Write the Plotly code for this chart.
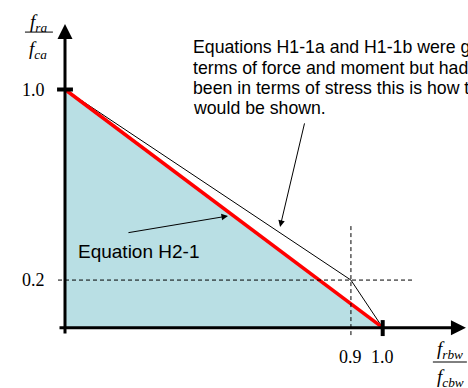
import plotly.graph_objects as go

# Interaction diagram values
h21_x = [0.0, 1.0]            # Equation H2-1 (straight line)
h21_y = [1.0, 0.0]
h1_x = [0.0, 0.9, 1.0]        # Equations H1-1a / H1-1b in stress terms
h1_y = [1.0, 0.2, 0.0]
x_ticks = [0.9, 1.0]
x_tick_text = ["0.9", "1.0"]
y_ticks = [0.2, 1.0]
y_tick_text = ["0.2", "1.0"]
note_lines = [
    "Equations H1-1a and H1-1b were given in",
    "terms of force and moment but had they",
    "been in terms of stress this is how they",
    "would be shown.",
]
note_line_y = [1.180, 1.0915, 1.0063, 0.9223]

SERIF = "Liberation Serif"
SANS = "Liberation Sans"
FILL = "rgb(185,223,228)"

X_RANGE = [-0.2046, 1.2685]
Y_RANGE = [-0.2531, 1.3757]

fig = go.Figure()

# shaded safe region under H2-1
fig.add_trace(go.Scatter(
    x=[0.0] + h21_x + [0.0], y=[0.0] + h21_y + [0.0],
    fill="toself", fillcolor=FILL, mode="none", hoverinfo="skip"))

# H1-1a/b bilinear curve
fig.add_trace(go.Scatter(x=h1_x, y=h1_y, mode="lines",
                         line=dict(color="black", width=1), hoverinfo="skip"))

# H2-1 line
fig.add_trace(go.Scatter(x=h21_x, y=h21_y, mode="lines",
                         line=dict(color="red", width=3.5), hoverinfo="skip"))

shapes = []
# dashed guides at the break point
shapes.append(dict(type="line", x0=h1_x[1], x1=h1_x[1], y0=-0.031, y1=0.431,
                   line=dict(color="black", width=1, dash="4px,3px")))
shapes.append(dict(type="line", x0=-0.022, x1=1.099, y0=h1_y[1], y1=h1_y[1],
                   line=dict(color="black", width=1, dash="4px,3px")))
# heavy tick marks at the unit values
shapes.append(dict(type="line", x0=-0.025, x1=0.025, y0=y_ticks[1], y1=y_ticks[1],
                   line=dict(color="black", width=4)))
shapes.append(dict(type="line", x0=x_ticks[1], x1=x_ticks[1], y0=-0.035, y1=0.032,
                   line=dict(color="black", width=4)))
# fraction bars of the axis titles
shapes.append(dict(type="line", x0=-0.126, x1=-0.038, y0=1.241, y1=1.241,
                   line=dict(color="black", width=1)))
shapes.append(dict(type="line", x0=1.158, x1=1.265, y0=-0.144, y1=-0.144,
                   line=dict(color="black", width=1)))

ann = []
# axes with arrowheads
ann.append(dict(x=0, y=1.275, ax=0, ay=-0.031, xref="x", yref="y", axref="x", ayref="y",
                text="", showarrow=True, arrowhead=2, arrowsize=1, arrowwidth=3,
                arrowcolor="black"))
ann.append(dict(x=1.262, y=0, ax=-0.022, ay=0, xref="x", yref="y", axref="x", ayref="y",
                text="", showarrow=True, arrowhead=2, arrowsize=1, arrowwidth=3,
                arrowcolor="black"))

# tick labels
for xv, t in zip(x_ticks, x_tick_text):
    ann.append(dict(x=xv, y=-0.123, xref="x", yref="y", text=t, showarrow=False,
                    font=dict(family=SERIF, size=18, color="black")))
for yv, t in zip(y_ticks, y_tick_text):
    ann.append(dict(x=-0.0976, y=yv, xref="x", yref="y", text=t, showarrow=False,
                    font=dict(family=SERIF, size=18, color="black")))

# axis titles as stacked fractions
ann.append(dict(x=-0.085, y=1.279, xref="x", yref="y", text="<i>f<sub>ra</sub></i>",
                showarrow=False, font=dict(family=SERIF, size=19, color="black")))
ann.append(dict(x=-0.085, y=1.166, xref="x", yref="y", text="<i>f<sub>ca</sub></i>",
                showarrow=False, font=dict(family=SERIF, size=19, color="black")))
ann.append(dict(x=1.212, y=-0.094, xref="x", yref="y", text="<i>f<sub>rbw</sub></i>",
                showarrow=False, font=dict(family=SERIF, size=19, color="black")))
ann.append(dict(x=1.212, y=-0.213, xref="x", yref="y", text="<i>f<sub>cbw</sub></i>",
                showarrow=False, font=dict(family=SERIF, size=19, color="black")))

# explanatory note, one annotation per line, with its pointer
for line, yv in zip(note_lines, note_line_y):
    ann.append(dict(x=0.397, y=yv, xref="x", yref="y", xanchor="left", yanchor="middle",
                    align="left", showarrow=False, text=line,
                    font=dict(family=SANS, size=17.7, color="black")))
ann.append(dict(x=0.677, y=0.423, ax=0.755, ay=0.864, xref="x", yref="y",
                axref="x", ayref="y", text="", showarrow=True, arrowhead=2,
                arrowsize=1.3, arrowwidth=1, arrowcolor="black"))

ann.append(dict(x=0.035, y=0.318, xref="x", yref="y", xanchor="left", yanchor="middle",
                showarrow=False, text="Equation H2-1",
                font=dict(family=SANS, size=19, color="black")))
ann.append(dict(x=0.513, y=0.469, ax=0.195, ay=0.398, xref="x", yref="y",
                axref="x", ayref="y", text="", showarrow=True, arrowhead=2,
                arrowsize=1.3, arrowwidth=1, arrowcolor="black"))

fig.update_layout(
    width=468, height=388,
    margin=dict(l=0, r=0, t=0, b=0),
    paper_bgcolor="white", plot_bgcolor="white",
    showlegend=False,
    shapes=shapes, annotations=ann,
    xaxis=dict(range=X_RANGE, visible=False, fixedrange=True),
    yaxis=dict(range=Y_RANGE, visible=False, fixedrange=True),
)

fig.write_html("out.html")
